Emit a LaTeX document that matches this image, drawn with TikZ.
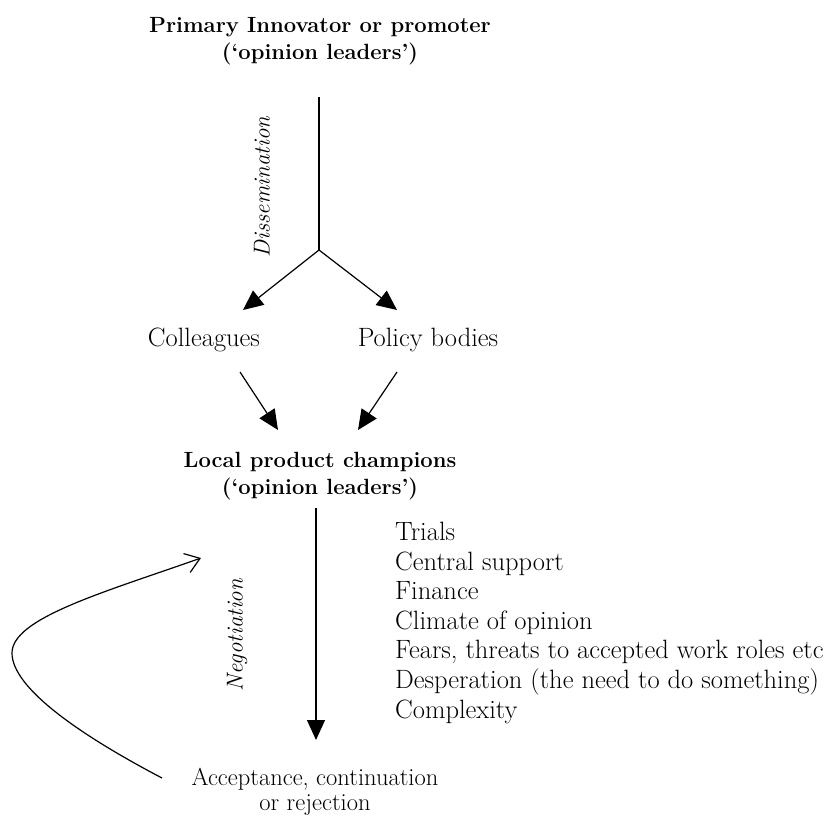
\documentclass[tikz,border=0pt]{standalone}
\usetikzlibrary{arrows.meta}
\begin{document}
\begin{tikzpicture}[x=1pt,y=-1pt,
  txt/.style={font=\fontsize{26.5}{27}\selectfont, inner sep=0pt, align=center},
  hd/.style={font=\fontsize{22}{27}\selectfont\bfseries, inner sep=0pt, align=center},
  lbl/.style={font=\fontsize{23}{27}\selectfont\itshape, inner sep=0pt, rotate=90},
  flow/.style={line width=1.2pt, -{Triangle[length=20pt,width=18pt]}},
  back/.style={line width=1.2pt, -{Straight Barb[length=14pt,width=20pt]}},
  ln/.style={line width=1.2pt}
]
\useasboundingbox (0,0) rectangle (829,818);

% text blocks
\node[hd] (top) at (320,41) {Primary Innovator or promoter\\(`opinion leaders')};
\node[txt] (coll) at (204,340) {Colleagues};
\node[txt] (pol) at (428,340) {Policy bodies};
\node[hd] (local) at (320,476) {Local product champions\\(`opinion leaders')};
\node[txt, font=\fontsize{24.5}{25}\selectfont] (acc) at (315,792) {Acceptance, continuation\\or rejection};
\node[txt, align=left, anchor=north west, font=\fontsize{26.5}{29.6}\selectfont] (factors) at (395,522)
  {Trials\\Central support\\Finance\\Climate of opinion\\Fears, threats to accepted work roles etc\\Desperation (the need to do something)\\Complexity};

\node[lbl] (dis) at (262,187) {Dissemination};
\node[lbl] (neg) at (237,635) {Negotiation};

% connector end points
\coordinate (t) at (319,97);
\coordinate (j) at (319,250);
\coordinate (cl) at (243,310);
\coordinate (pl) at (397,310);
\coordinate (c1) at (240,372);
\coordinate (c2) at (278,430);
\coordinate (p1) at (397,372);
\coordinate (p2) at (358,430);
\coordinate (n1) at (316,508);
\coordinate (n2) at (316,740);
\coordinate (b1) at (162,778);
\coordinate (b2) at (12,653);
\coordinate (b3) at (201,558);

% dissemination branch
\draw[ln] (t) -- (j);
\draw[flow] (j) -- (cl);
\draw[flow] (j) -- (pl);

% into local champions
\draw[flow] (c1) -- (c2);
\draw[flow] (p1) -- (p2);

% negotiation
\draw[flow] (n1) -- (n2);

% feedback loop
\draw[back] (b1) .. controls (80,735) and (12,688) .. (b2)
                 .. controls (12,618) and (105,592) .. (b3);
\end{tikzpicture}
\end{document}
